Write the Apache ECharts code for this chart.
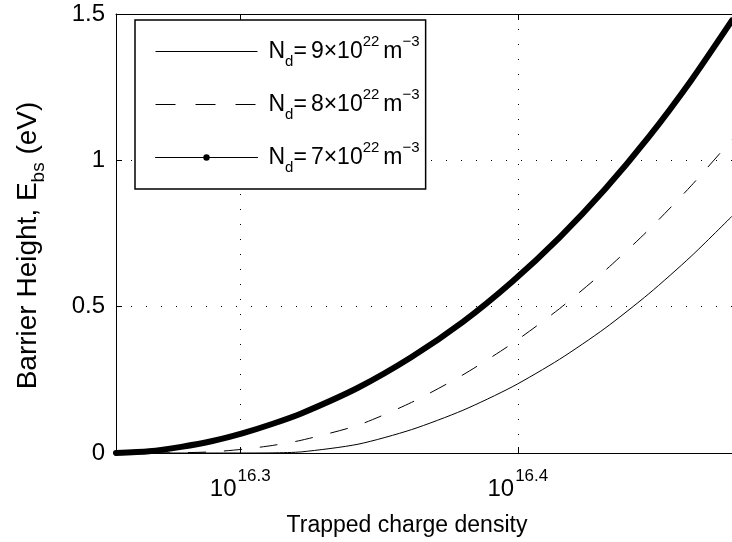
<!DOCTYPE html>
<html><head><meta charset="utf-8">
<script src="https://cdn.jsdelivr.net/npm/echarts@6/dist/echarts.min.js"></script>
<style>html,body{margin:0;padding:0;background:#fff}#c{width:732px;height:542px}</style>
</head><body><div id="c"></div>
<script>
// Trapped charge density, in units of 10^16
const densityE16 = [1.8, 1.85, 1.9, 1.95, 2.0, 2.05, 2.1, 2.2, 2.3, 2.4, 2.5, 2.6, 2.7, 2.8, 2.9, 3.0];
// Barrier height (eV)
const barrierNd9 = [0, 0, 0, 0, 0, 0.0005, 0.004, 0.030, 0.080, 0.146, 0.226, 0.320, 0.426, 0.544, 0.672, 0.809];
const barrierNd8 = [0, 0, 0.001, 0.004, 0.013, 0.026, 0.044, 0.095, 0.173, 0.267, 0.374, 0.493, 0.623, 0.763, 0.913, 1.071];
const barrierNd7 = [0, 0.006, 0.021, 0.041, 0.068, 0.100, 0.136, 0.223, 0.328, 0.448, 0.585, 0.736, 0.901, 1.080, 1.273, 1.478];
const xTickExponents = [16.3, 16.4];
const yTicks = [0, 0.5, 1, 1.5];
const seriesKeys = ['Nd9', 'Nd8', 'Nd7'];
const legendMantissa = ['9', '8', '7'];

const FONT = 'Liberation Sans, Arial, Helvetica, sans-serif';
const toLog = n => 16 + Math.log10(n);
const pairs = arr => densityE16.map((n, i) => [toLog(n), arr[i]]);
const xMin = toLog(densityE16[0]);
const xMax = toLog(densityE16[densityE16.length - 1]);

const chart = echarts.init(document.getElementById('c'), null, {renderer: 'canvas'});
const dotted = {color: '#000', width: 1, type: [1, 14]};
const tok = (size, pad) => ({fontSize: size, fontFamily: FONT, color: '#000', verticalAlign: 'middle', padding: pad || [0, 0, 0, 0]});

chart.setOption({
  animation: false,
  backgroundColor: '#fff',
  textStyle: {fontFamily: FONT},
  grid: {left: 116, top: 14, width: 622.6, height: 441, containLabel: false},
  xAxis: [{
    type: 'value', min: xMin, max: xMax, position: 'bottom',
    axisLine: {show: true, onZero: false, lineStyle: {color: '#000', width: 1}},
    axisTick: {show: true, inside: true, length: 6, customValues: xTickExponents, lineStyle: {color: '#000'}},
    axisLabel: {
      show: true, customValues: xTickExponents, margin: 15, color: '#000',
      formatter: v => '{b|10}{s|' + v.toFixed(1) + '}',
      rich: {b: tok(24), s: tok(17, [0, 0, 26, 1])}
    },
    splitLine: {show: true, lineStyle: dotted},
    name: '{n|Trapped charge density}', nameLocation: 'middle', nameGap: 61,
    nameTextStyle: {rich: {n: tok(23, [0, 34, 0, 0])}}
  }, {
    type: 'value', min: xMin, max: xMax, position: 'top',
    axisLine: {show: true, onZero: false, lineStyle: {color: '#000', width: 1}},
    axisTick: {show: true, inside: true, length: 6, customValues: xTickExponents, lineStyle: {color: '#000'}},
    axisLabel: {show: false},
    splitLine: {show: false}
  }],
  yAxis: {
    type: 'value', min: yTicks[0], max: yTicks[yTicks.length - 1], interval: 0.5,
    axisLine: {show: true, onZero: false, lineStyle: {color: '#000', width: 1}},
    axisTick: {show: true, inside: true, length: 6, lineStyle: {color: '#000'}},
    axisLabel: {fontSize: 24, color: '#000', margin: 11, fontFamily: FONT},
    splitLine: {show: true, lineStyle: dotted},
    name: '{n|Barrier Height, E}{sub|bs}{e| (eV)}', nameLocation: 'middle', nameGap: 68, nameRotate: 90,
    nameTextStyle: {rich: {n: tok(28), sub: tok(19, [20, 0, 0, 0]), e: tok(28, [0, 24, 0, 0])}}
  },
  legend: {
    orient: 'vertical', left: 135, top: 20, itemWidth: 102, itemHeight: 8, itemGap: 18,
    padding: [14, 6, 14, 20], borderColor: '#000', borderWidth: 1.5, backgroundColor: '#fff',
    selectedMode: false,
    data: [
      {name: 'Nd9', itemStyle: {opacity: 0}, lineStyle: {width: 1, color: '#000'}},
      {name: 'Nd8', itemStyle: {opacity: 0}, lineStyle: {width: 1, color: '#000', type: [20, 20]}},
      {name: 'Nd7', itemStyle: {color: '#000', opacity: 1}, lineStyle: {width: 1, color: '#000', type: 'solid'}}
    ],
    formatter: name => {
      const m = legendMantissa[seriesKeys.indexOf(name)];
      return '{nf|N}{sub|d}{n|=}{g|' + m + '×10}{sup|22}{g|m}{sup|−3}';
    },
    textStyle: {rich: {
      nf: tok(23, [0, 0, 0, 6]),
      n: tok(23),
      g: tok(23, [0, 0, 0, 4]),
      sub: tok(15, [20, 0, 0, 0]),
      sup: tok(15, [0, 0, 20, 0])
    }}
  },
  series: [
    {name: 'Nd9', type: 'line', data: pairs(barrierNd9), symbol: 'none', smooth: 0.25,
     lineStyle: {color: '#000', width: 1}, itemStyle: {color: '#000'}, z: 3},
    {name: 'Nd8', type: 'line', data: pairs(barrierNd8), symbol: 'none', smooth: 0.25,
     lineStyle: {color: '#000', width: 1, type: [18, 18]}, itemStyle: {color: '#000'}, z: 3},
    {name: 'Nd7', type: 'line', data: pairs(barrierNd7), symbol: 'circle', symbolSize: 6, showSymbol: false,
     smooth: 0.25,
     lineStyle: {color: '#000', width: 6, cap: 'round', join: 'round'}, itemStyle: {color: '#000'}, z: 4}
  ]
});
</script></body></html>
